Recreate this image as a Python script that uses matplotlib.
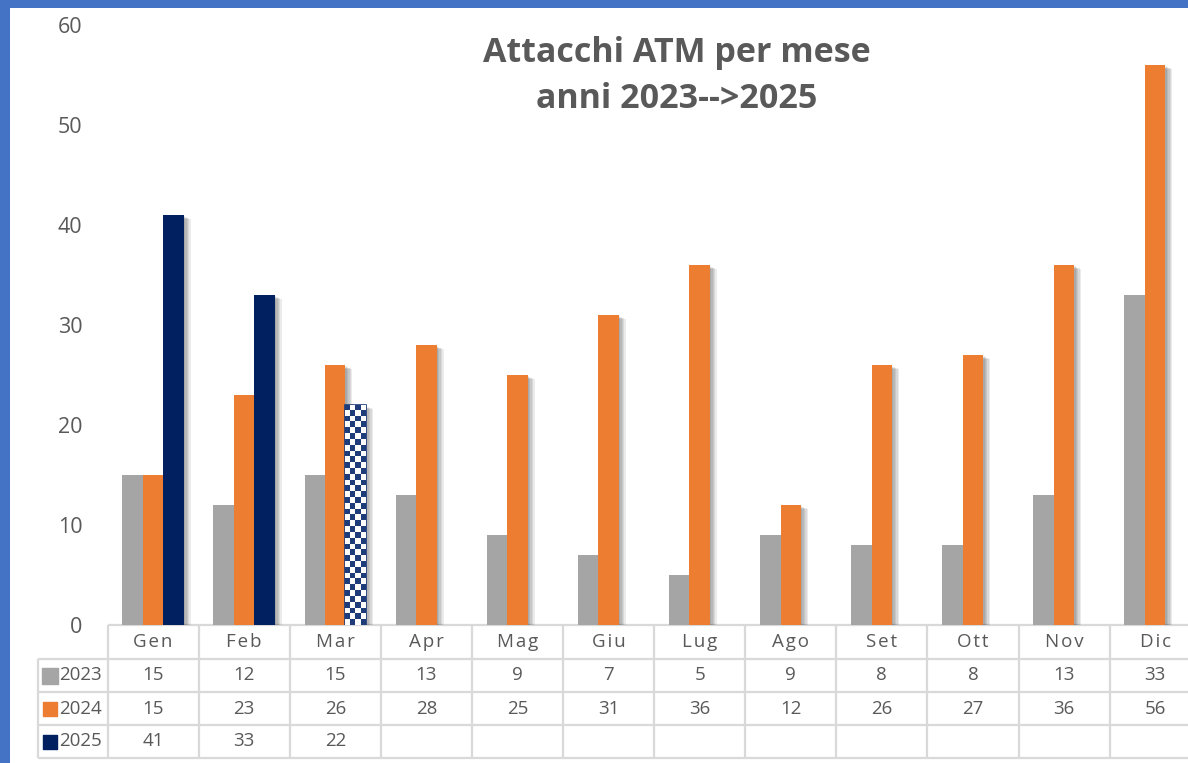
import numpy as np
import matplotlib
matplotlib.use("Agg")
import matplotlib.pyplot as plt
from matplotlib.patches import Rectangle
import matplotlib.patheffects as pe

months = ["Gen", "Feb", "Mar", "Apr", "Mag", "Giu", "Lug", "Ago", "Set", "Ott", "Nov", "Dic"]
series_names = ["2023", "2024", "2025"]
v2023 = [15, 12, 15, 13, 9, 7, 5, 9, 8, 8, 13, 33]
v2024 = [15, 23, 26, 28, 25, 31, 36, 12, 26, 27, 36, 56]
v2025 = [41, 33, 22]
yticks = [0, 10, 20, 30, 40, 50, 60]

colors = ["#A5A5A5", "#ED7D31", "#002060"]
TXT = "#595959"
GRID = "#D9D9D9"

W, H = 1188, 763
fig = plt.figure(figsize=(W / 100, H / 100), dpi=100)
fig.patch.set_facecolor("#4472C4")
fig.add_artist(Rectangle((10 / W, 0), 1, 1 - 8 / H, transform=fig.transFigure,
                         facecolor="white", edgecolor="none", zorder=0))

ax_l, ax_r = 107.5, 1200.7
ax_b, ax_t = 625, 25
ax = fig.add_axes([ax_l / W, 1 - ax_b / H, (ax_r - ax_l) / W, (ax_b - ax_t) / H])
ax.set_facecolor("none")
colw = (ax_r - ax_l) / 12.0

bw = 0.225
x = np.arange(len(months))
shadow = [pe.SimplePatchShadow(offset=(d, -d * 0.6), shadow_rgbFace="#000000", alpha=0.08)
          for d in (5.0, 4.0, 3.0, 2.0, 1.0)] + [pe.Normal()]

all_vals = [v2023, v2024, v2025]
bar_containers = []
for k, vals in enumerate(all_vals):
    xs = x[:len(vals)] + (k - 1) * bw
    bc = ax.bar(xs, vals, width=bw, color=colors[k], edgecolor="none", zorder=2 + k * 0.01,
                path_effects=shadow)
    bar_containers.append(bc)

# checkered pattern for the last 2025 bar (partial month)
last = bar_containers[2][-1]
last.set_edgecolor("#1F3C7A")
last.set_linewidth(1.2)
bx0 = last.get_x()
bx1 = bx0 + last.get_width()
btop = last.get_height()
ncols = 4
nrows = int(round(btop * 10 / 5.8))
chk = (np.add.outer(np.arange(nrows), np.arange(ncols)) % 2).astype(float)
rgb = np.zeros((nrows, ncols, 3))
navy = np.array([0x1F, 0x3C, 0x7A]) / 255
rgb[chk == 0] = navy
rgb[chk == 1] = [1, 1, 1]
im = ax.imshow(rgb, extent=[bx0, bx1, 0, btop], aspect="auto", interpolation="nearest",
               zorder=2.05)
im.set_clip_path(last)

ax.set_xlim(-0.5, 11.5)
ax.set_ylim(0, 60)
ax.set_yticks(yticks)
ax.set_xticks([])
for s in ax.spines.values():
    s.set_visible(False)
ax.tick_params(axis="y", length=0, pad=18, labelsize=15.5, labelcolor=TXT)
for lab in ax.get_yticklabels():
    lab.set_fontfamily("Open Sans")

# data table
tr = ax.get_xaxis_transform()
hh = 34 / 600.0
rh = 33 / 600.0
xl = -0.5 - 70 / colw
ybot = -hh - 3 * rh
lk = dict(color=GRID, lw=1.6, transform=tr, clip_on=False, zorder=1, solid_capstyle="butt")
ax.plot([-0.5, 11.5], [0, 0], **lk)
for r in range(4):
    yy = -hh - r * rh
    ax.plot([xl, 11.5], [yy, yy], **lk)
for c in range(13):
    xx = c - 0.5
    ax.plot([xx, xx], [0, ybot], **lk)
ax.plot([xl, xl], [-hh, ybot], **lk)

tk = dict(transform=tr, ha="center", va="center", color=TXT, fontsize=13.5,
          fontfamily="Open Sans", clip_on=False)
for i, m in enumerate(months):
    ax.text(i, -hh / 2, "\u200a".join(m), **tk)
for r, vals in enumerate(all_vals):
    yc = -hh - (r + 0.5) * rh
    for i, v in enumerate(vals):
        ax.text(i, yc, str(v), **tk)
    sq_x = -0.5 + (50 - ax_l) / colw
    ax.scatter([sq_x], [yc], marker="s", s=120 if r == 0 else 95, color=colors[r],
               transform=tr, clip_on=False, zorder=3)
    ax.text(-0.5 + (59 - ax_l) / colw, yc, series_names[r], transform=tr, ha="left",
            va="center", color=TXT, fontsize=13.5, fontfamily="Open Sans", clip_on=False)

fig.text(677 / W, 1 - 76 / H, "Attacchi ATM per mese\nanni 2023-->2025", ha="center",
         va="center", fontsize=24.5, fontweight="bold", color=TXT, fontfamily="Open Sans",
         linespacing=1.45)

fig.savefig("out.png", dpi=100, facecolor=fig.get_facecolor())
